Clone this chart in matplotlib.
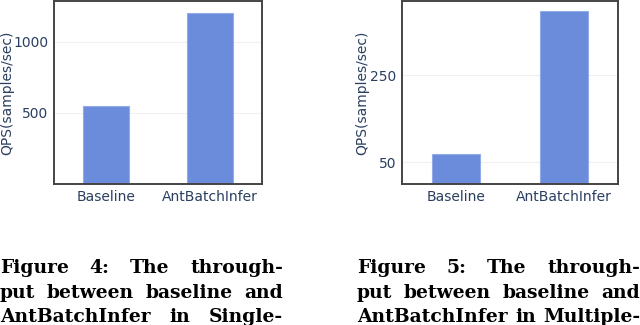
import matplotlib
matplotlib.use("Agg")
import matplotlib.pyplot as plt

categories = ["Baseline", "AntBatchInfer"]
qps_single = [547, 1204]
qps_multi = [68, 397]
ticks_single = [500, 1000]
ticks_multi = [50, 250]

caption_left = ["Figure 4: The through-", "put between baseline and", "AntBatchInfer in Single-"]
caption_right = ["Figure 5: The through-", "put between baseline and", "AntBatchInfer in Multiple-"]

text_color = "#2a3f5f"
bar_color = "#6b8bdb"
edge_color = "#93abe8"

fig = plt.figure(figsize=(6.4, 3.25), dpi=100)


def bar_panel(rect, values, ticks, ymax):
    ax = fig.add_axes(rect)
    ax.bar(range(len(values)), values, width=0.45, color=bar_color,
           edgecolor=edge_color, linewidth=0.8, zorder=2)
    ax.set_xlim(-0.5, 1.5)
    ax.set_ylim(0, ymax)
    ax.set_xticks(range(len(categories)))
    ax.set_xticklabels(categories)
    ax.set_yticks(ticks)
    ax.grid(axis="y", color="#f0f0f0", linewidth=0.8, zorder=0)
    ax.tick_params(length=0, labelsize=10, colors=text_color, pad=4)
    ax.set_ylabel("QPS(samples/sec)", color=text_color, fontsize=10)
    for s in ax.spines.values():
        s.set_color("#444444")
        s.set_linewidth(1.4)
    return ax


W, H = 640, 325
ax1 = bar_panel([54 / W, 1 - 184 / H, 208 / W, 183 / H], qps_single, ticks_single, 1287)
ax1.yaxis.set_label_coords(-0.19, 0.5)
ax2 = bar_panel([402 / W, 1 - 184 / H, 216 / W, 183 / H], qps_multi, ticks_multi, 420)
ax2.yaxis.set_label_coords(-0.15, 0.5)

fig.canvas.draw()
renderer = fig.canvas.get_renderer()


def justified(lines, x0, x1, y0, dy):
    for i, line in enumerate(lines):
        words = line.split()
        y = y0 - i * dy
        objs = [fig.text(0, y, w, fontsize=13.5, fontweight="bold",
                         family="DejaVu Serif", color="black",
                         transform=None) for w in words]
        widths = [o.get_window_extent(renderer).width for o in objs]
        gap = (x1 - x0 - sum(widths)) / max(len(words) - 1, 1)
        gap = max(gap, 3)
        x = x0
        for o, w in zip(objs, widths):
            o.set_x(x)
            x += w + gap


justified(caption_left, 0, 283, H - 273, 24.5)
justified(caption_right, 357, 640, H - 273, 24.5)

fig.savefig("out.png", dpi=100)
